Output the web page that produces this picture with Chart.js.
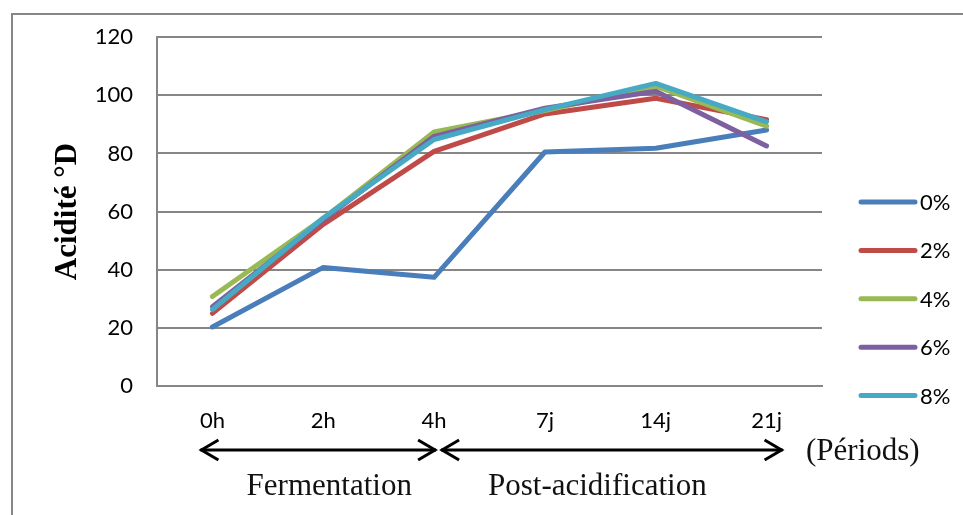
<!DOCTYPE html>
<html>
<head>
<meta charset="utf-8">
<script src="https://cdn.jsdelivr.net/npm/chart.js@4.4.1/dist/chart.umd.min.js"></script>
<style>
  html, body { margin: 0; padding: 0; background: #fff; }
  #wrap { width: 963px; height: 515px; }
</style>
</head>
<body>
<div id="wrap"><canvas id="chart" width="963" height="515"></canvas></div>
<script>
// periods on the x axis
const periods = ['0h', '2h', '4h', '7j', '14j', '21j'];

// acidity (°D) per concentration
const series0 = [20.3, 40.8, 37.4, 80.5, 81.8, 88.1];
const series2 = [25.0, 55.6, 80.7, 93.6, 99.0, 91.6];
const series4 = [30.8, 57.6, 87.4, 94.8, 103.2, 89.4];
const series6 = [27.3, 57.2, 85.9, 95.6, 101.4, 82.6];
const series8 = [26.3, 57.8, 84.8, 95.1, 104.1, 90.9];

const seriesLabels = ['0%', '2%', '4%', '6%', '8%'];
const seriesColors = ['#4a7ebb', '#be4b48', '#98b954', '#7d60a0', '#46aac5'];
const yTicks = [0, 20, 40, 60, 80, 100, 120];

// bottom annotations
const phaseLabels = ['Fermentation', 'Post-acidification'];
const periodsTitle = '(Périods)';

const gridColor = '#868686';

// outer frame, legend and period arrows
const extras = {
  id: 'extras',
  beforeDraw(chart) {
    const ctx = chart.ctx;
    ctx.save();
    ctx.fillStyle = '#fff';
    ctx.fillRect(0, 0, chart.width, chart.height);
    ctx.strokeStyle = gridColor;
    ctx.lineWidth = 2;
    ctx.strokeRect(12, 14, 1000, 600);
    ctx.restore();
  },
  afterDraw(chart) {
    const ctx = chart.ctx;
    const x = chart.scales.x;

    // legend
    ctx.save();
    ctx.lineCap = 'round';
    ctx.lineWidth = 5;
    ctx.font = '22px Lato';
    ctx.textBaseline = 'middle';
    ctx.fillStyle = '#000';
    chart.data.datasets.forEach((ds, i) => {
      const y = 202 + i * 48.4;
      ctx.strokeStyle = ds.borderColor;
      ctx.beginPath();
      ctx.moveTo(861, y);
      ctx.lineTo(915, y);
      ctx.stroke();
      ctx.fillText(ds.label, 920, y + 1);
    });
    ctx.restore();

    // arrows
    const ay = 450;
    const x0 = x.getPixelForValue(0) - 12;
    const x4 = x.getPixelForValue(2);
    const x21 = x.getPixelForValue(5) + 16;
    ctx.save();
    ctx.strokeStyle = '#000';
    ctx.lineWidth = 3;
    ctx.lineJoin = 'miter';
    function arrow(a, b) {
      ctx.beginPath();
      ctx.moveTo(a, ay);
      ctx.lineTo(b, ay);
      ctx.stroke();
      ctx.beginPath();
      ctx.moveTo(a + 18, ay - 10);
      ctx.lineTo(a + 1, ay);
      ctx.lineTo(a + 18, ay + 10);
      ctx.moveTo(b - 18, ay - 10);
      ctx.lineTo(b - 1, ay);
      ctx.lineTo(b - 18, ay + 10);
      ctx.stroke();
    }
    arrow(x0, x4 + 2);
    arrow(x4 + 7, x21);

    ctx.fillStyle = '#111';
    ctx.font = '31px "Liberation Serif"';
    ctx.textAlign = 'center';
    ctx.textBaseline = 'alphabetic';
    ctx.fillText(phaseLabels[0], (x0 + x4) / 2 + 12, 495);
    ctx.fillText(phaseLabels[1], (x4 + x21) / 2 - 11, 495);
    ctx.textAlign = 'left';
    ctx.fillText(periodsTitle, 806, 460);
    ctx.restore();
  }
};

const allSeries = [series0, series2, series4, series6, series8];

new Chart(document.getElementById('chart').getContext('2d'), {
  type: 'line',
  data: {
    labels: periods,
    datasets: allSeries.map((vals, i) => ({
      label: seriesLabels[i],
      data: vals,
      borderColor: seriesColors[i],
      backgroundColor: seriesColors[i],
      borderWidth: 5,
      pointRadius: 0,
      tension: 0,
      borderJoinStyle: 'round',
      borderCapStyle: 'round',
      order: allSeries.length - i
    }))
  },
  options: {
    responsive: false,
    animation: false,
    layout: { padding: { top: 34, right: 141, bottom: 0, left: 0 } },
    plugins: {
      legend: { display: false },
      tooltip: { enabled: false }
    },
    scales: {
      x: {
        offset: true,
        grid: { display: false, drawTicks: false },
        border: { display: true, color: gridColor, width: 2 },
        ticks: { color: '#000', font: { family: 'Lato', size: 22 }, padding: 22, maxRotation: 0 },
        afterFit(scale) { scale.height = 129; }
      },
      y: {
        min: 0,
        max: 120,
        afterBuildTicks(scale) { scale.ticks = yTicks.map(v => ({ value: v })); },
        grid: { color: gridColor, lineWidth: 2, drawTicks: false },
        border: { display: true, color: gridColor, width: 2 },
        ticks: { color: '#000', font: { family: 'Lato', size: 22 }, padding: 24 },
        title: {
          display: true,
          text: 'Acidité °D',
          color: '#000',
          font: { family: 'Liberation Serif', size: 31, weight: 'bold' },
          padding: { top: 49, bottom: 0 }
        },
        afterFit(scale) { scale.width = 157; }
      }
    }
  },
  plugins: [extras]
});
</script>
</body>
</html>
